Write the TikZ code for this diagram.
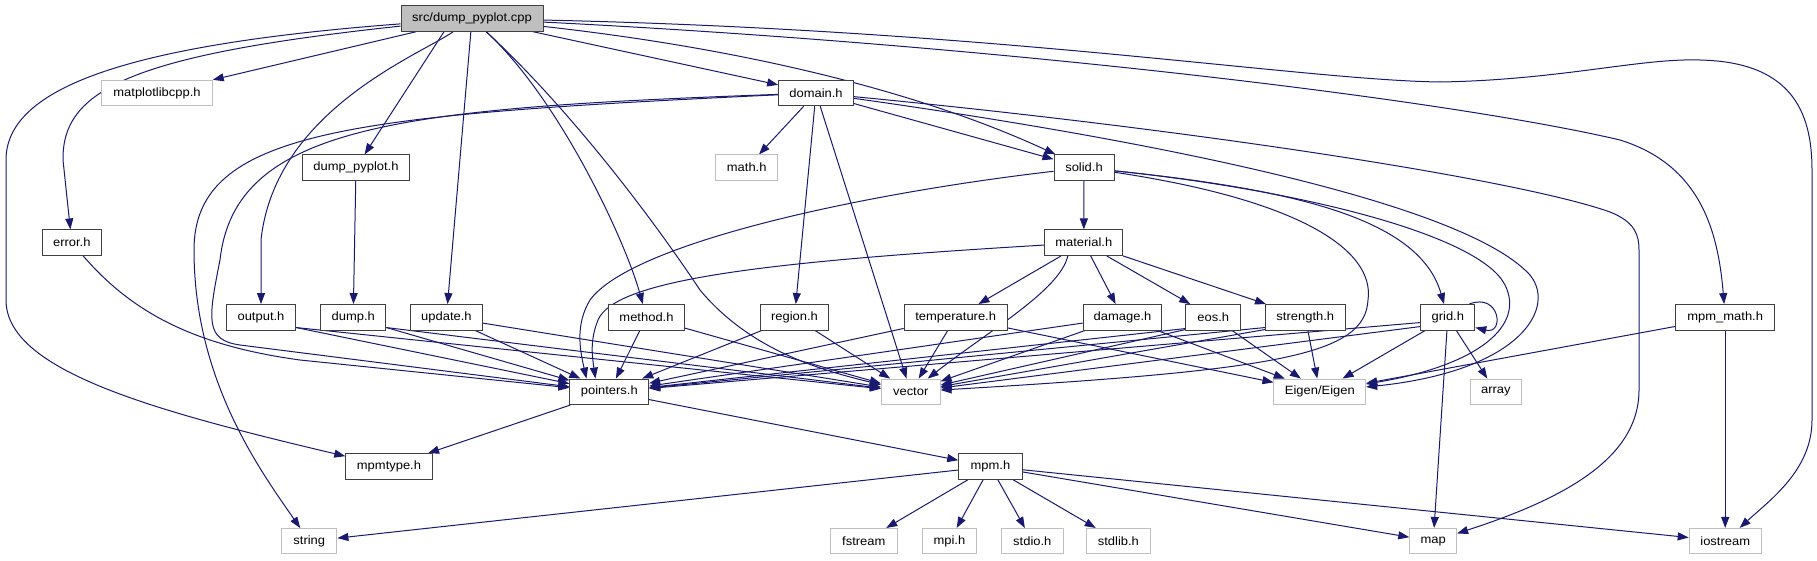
\documentclass[tikz,border=0pt]{standalone}
\usepackage{fontspec}
\setmainfont{Liberation Sans}[FakeStretch=1.08]
\usetikzlibrary{arrows.meta,calc}
\definecolor{edgec}{HTML}{191970}
\definecolor{extc}{HTML}{BFBFBF}
\definecolor{nodec}{HTML}{404040}
\pgfdeclarelayer{bg}
\pgfsetlayers{bg,main}
\begin{document}
\begin{tikzpicture}[x=1pt,y=-1pt,
  every node/.style={font=\fontsize{12}{14}\selectfont, inner sep=0pt, minimum height=25.5pt, text=black},
  intn/.style={draw=nodec, line width=1pt, fill=white},
  extn/.style={draw=extc, line width=1pt, fill=white},
  rootn/.style={draw=nodec, line width=1pt, fill=extc},
  dep/.style={draw=edgec, line width=1pt, -{Triangle[length=11pt,width=8pt]}}
]
\useasboundingbox (0,0) rectangle (1817,560);

% nodes
\node[rootn, minimum width=142pt] (cpp) at (472,18.5) {src/dump\_pyplot.cpp};
\node[extn, minimum width=110.5pt] (mat) at (157,93) {matplotlibcpp.h};
\node[intn, minimum width=74.7pt] (dom) at (816,93) {domain.h};
\node[intn, minimum width=107pt] (dpy) at (356,167.7) {dump\_pyplot.h};
\node[extn, minimum width=62.3pt] (math) at (746.7,167.7) {math.h};
\node[intn, minimum width=60pt] (solid) at (1084,167.7) {solid.h};
\node[intn, minimum width=58.7pt] (err) at (71.8,242.7) {error.h};
\node[intn, minimum width=78pt] (mater) at (1083.8,242.7) {material.h};
\node[intn, minimum width=69.3pt] (outp) at (261,317.3) {output.h};
\node[intn, minimum width=65.3pt] (dump) at (353.2,317.3) {dump.h};
\node[intn, minimum width=72pt] (upd) at (446.4,317.3) {update.h};
\node[intn, minimum width=76pt] (meth) at (646.5,317.3) {method.h};
\node[intn, minimum width=68.5pt] (reg) at (794.5,317.3) {region.h};
\node[intn, minimum width=103pt] (temp) at (955.7,317.3) {temperature.h};
\node[intn, minimum width=78.6pt] (dmg) at (1122.5,317.3) {damage.h};
\node[intn, minimum width=54.6pt] (eos) at (1213.2,317.3) {eos.h};
\node[intn, minimum width=80pt] (strg) at (1305.3,317.3) {strength.h};
\node[intn, minimum width=54pt] (grid) at (1447.8,317.3) {grid.h};
\node[intn, minimum width=98.8pt] (mmath) at (1725.2,317.3) {mpm\_math.h};
\node[intn, minimum width=78.7pt] (ptr) at (609.3,391.8) {pointers.h};
\node[extn, minimum width=58.7pt] (vec) at (910.7,391.8) {vector};
\node[extn, minimum width=91.7pt] (eig) at (1319.8,391.8) {Eigen/Eigen};
\node[extn, minimum width=50.7pt] (arr) at (1495.8,391.8) {array};
\node[intn, minimum width=86.4pt] (mtype) at (389,466.5) {mpmtype.h};
\node[intn, minimum width=63.4pt] (mpm) at (990.4,466.5) {mpm.h};
\node[extn, minimum width=55.2pt] (strn) at (309.3,541.2) {string};
\node[extn, minimum width=67pt] (fst) at (863.8,541.2) {fstream};
\node[extn, minimum width=54.5pt] (mpi) at (949.4,541.2) {mpi.h};
\node[extn, minimum width=61.5pt] (stdio) at (1032.3,541.2) {stdio.h};
\node[extn, minimum width=64.2pt] (stdlib) at (1118.4,541.2) {stdlib.h};
\node[extn, minimum width=46.8pt] (map) at (1433.2,541.2) {map};
\node[extn, minimum width=72pt] (ios) at (1725.2,541.2) {iostream};

\begin{pgfonlayer}{bg}
% from src/dump_pyplot.cpp
\draw[dep] (cpp) -- (mat);
\draw[dep] (cpp) .. controls (130,55) and (62,90) .. (63,160) -- (err);
\draw[dep] (cpp) .. controls (120,45) and (6,90) .. (6,160) -- (6,300) .. controls (6,370) and (150,410) .. (mtype);
\draw[dep] ($(cpp.south)+(-28,0)$) -- (dpy);
\draw[dep] (cpp) .. controls (420,55) and (275,110) .. (261,240) -- (outp);
\draw[dep] (cpp) -- (upd);
\draw[dep] (cpp) .. controls (560,100) and (625,240) .. (meth);
\draw[dep] (cpp) .. controls (560,100) and (640,200) .. (700,290) .. controls (750,350) and (820,370) .. (vec);
\draw[dep] (cpp) -- (dom);
\draw[dep] (cpp) .. controls (800,55) and (960,110) .. (solid);
\draw[dep] (cpp) .. controls (1000,45) and (1450,100) .. (1620,140) .. controls (1700,165) and (1718,230) .. (mmath);
\draw[dep] (cpp) .. controls (1000,30) and (1300,80) .. (1440,82) .. controls (1560,80) and (1640,58) .. (1700,60) .. controls (1790,62) and (1812,110) .. (1812,170) -- (1812,420) .. controls (1812,470) and (1770,500) .. (ios);

% from domain.h
\draw[dep] (dom) -- (math);
\draw[dep] (dom) -- (reg);
\draw[dep] (dom) -- (vec);
\draw[dep] (dom) -- (solid);
\draw[dep] (dom) .. controls (1150,140) and (1450,200) .. (1525,270) .. controls (1560,300) and (1530,370) .. (eig);
\draw[dep] (dom) .. controls (1200,130) and (1520,180) .. (1610,212) .. controls (1635,222) and (1639,235) .. (1639,250) -- (1639,390) .. controls (1639,460) and (1560,500) .. (map);
\draw[dep] (dom) .. controls (350,115) and (194,130) .. (194,250) .. controls (194,380) and (260,470) .. (strn);
\draw[dep] (dom) .. controls (400,108) and (235,125) .. (220,260) .. controls (208,320) and (205,340) .. (240,345) -- (ptr);

% from dump_pyplot.h
\draw[dep] (dpy) -- (dump);

% from error.h
\draw[dep] (err) .. controls (130,310) and (190,345) .. (300,360) -- (ptr);

% from solid.h
\draw[dep] (solid) -- (mater);
\draw[dep] (solid) .. controls (850,195) and (630,245) .. (590,300) .. controls (575,325) and (580,350) .. ($(ptr.north west)+(17,0)$);
\draw[dep] (solid) .. controls (1300,190) and (1420,220) .. (grid);
\draw[dep] (solid) .. controls (1300,190) and (1480,235) .. (1505,285) .. controls (1525,325) and (1480,365) .. (eig);
\draw[dep] (solid) .. controls (1300,200) and (1375,250) .. (1368,300) .. controls (1365,355) and (1280,370) .. (vec);

% from material.h
\draw[dep] (mater) .. controls (760,262) and (615,280) .. (598,320) .. controls (590,340) and (592,355) .. ($(ptr.north west)+(26,0)$);
\draw[dep] (mater) -- (temp);
\draw[dep] ($(mater.south)+(-16,0)$) .. controls (1060,290) and (990,330) .. (vec);
\draw[dep] (mater) -- (dmg);
\draw[dep] (mater) -- (eos);
\draw[dep] (mater) -- (strg);

% second row to pointers / vector / Eigen
\draw[dep] ($(outp.south east)+(0,-3)$) -- (ptr);
\draw[dep] ($(outp.south east)+(0,-3)$) -- (vec);
\draw[dep] ($(dump.south east)+(0,-3)$) -- (ptr);
\draw[dep] ($(dump.south east)+(0,-3)$) -- (vec);
\draw[dep] (upd) -- (ptr);
\draw[dep] (upd) -- (vec);
\draw[dep] (meth) -- (ptr);
\draw[dep] (meth) -- (vec);
\draw[dep] (reg) -- (ptr);
\draw[dep] (reg) -- (vec);
\draw[dep] (temp) -- (ptr);
\draw[dep] (temp) -- (vec);
\draw[dep] (temp) -- (eig);
\draw[dep] (dmg) -- (ptr);
\draw[dep] (dmg) -- (vec);
\draw[dep] (dmg) -- (eig);
\draw[dep] ($(eos.south west)+(0,-2)$) -- (ptr);
\draw[dep] ($(eos.south west)+(0,-1)$) -- (vec);
\draw[dep] (eos) -- (eig);
\draw[dep] ($(strg.south west)+(0,-3)$) -- (ptr);
\draw[dep] ($(strg.south west)+(0,-1)$) -- (vec);
\draw[dep] (strg) -- (eig);
\draw[dep] ($(grid.south west)+(0,-8)$) -- (ptr);
\draw[dep] ($(grid.south west)+(0,-4)$) -- (vec);
\draw[dep] (grid) -- (eig);
\draw[dep] (grid) -- (arr);
\draw[dep] (grid) -- (map);
\draw[dep] ($(grid.north east)+(-6,0)$) .. controls (1500,292) and (1505,335) .. ($(grid.south east)+(0,-3)$);
\draw[dep] (mmath) -- (eig);
\draw[dep] (mmath) -- (ios);

% from pointers.h
\draw[dep] (ptr) -- (mtype);
\draw[dep] (ptr) -- (mpm);

% from mpm.h
\draw[dep] (mpm) -- (strn);
\draw[dep] (mpm) -- (fst);
\draw[dep] (mpm) -- (mpi);
\draw[dep] (mpm) -- (stdio);
\draw[dep] (mpm) -- (stdlib);
\draw[dep] (mpm) -- (map);
\draw[dep] (mpm) -- (ios);
\end{pgfonlayer}
\end{tikzpicture}
\end{document}
